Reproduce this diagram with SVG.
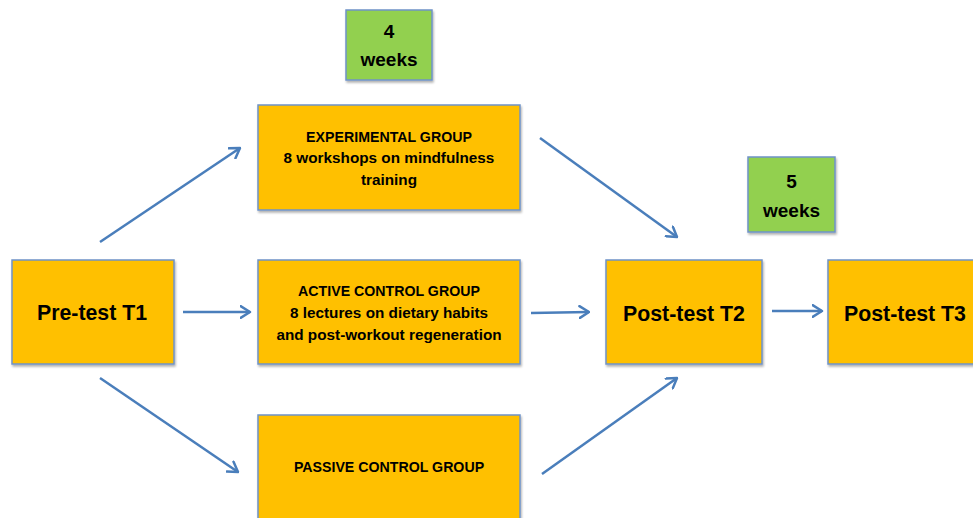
<svg xmlns="http://www.w3.org/2000/svg" width="973" height="518" viewBox="0 0 973 518">
<style>
.box{fill:#FFC000;stroke:#6F93C7;stroke-width:1.5;filter:url(#sh)}
.wk{fill:#92D050;stroke:#6F93C7;stroke-width:1.5;filter:url(#sh)}
text{font-family:"Liberation Sans",Arial,sans-serif;font-weight:bold;fill:#000;text-anchor:middle}
.big{font-size:21.3px}
.sm{font-size:14.2px}
.lc{font-size:15.3px}
.w{font-size:19px}
.conn{stroke:#4A7EBB;stroke-width:2.5;fill:none;marker-end:url(#ah)}
</style>
<defs>
<filter id="sh" x="-10%" y="-10%" width="120%" height="130%">
<feDropShadow dx="1" dy="2" stdDeviation="1.2" flood-color="#000" flood-opacity="0.3"/>
</filter>
<marker id="ah" viewBox="0 0 12 14" refX="10.5" refY="7" markerWidth="12" markerHeight="14" markerUnits="userSpaceOnUse" orient="auto">
<path d="M1,1 L10.5,7 L1,13" fill="none" stroke="#4A7EBB" stroke-width="2.5" stroke-linecap="round" stroke-linejoin="round"/>
</marker>
</defs>
<rect width="973" height="518" fill="#fff"/>

<g id="connectors">
<line class="conn" x1="100" y1="242" x2="240" y2="148"/>
<line class="conn" x1="183" y1="312" x2="250" y2="312"/>
<line class="conn" x1="100" y1="378" x2="238" y2="472"/>
<line class="conn" x1="540" y1="138" x2="677" y2="237"/>
<line class="conn" x1="531" y1="313" x2="589" y2="312"/>
<line class="conn" x1="542" y1="474" x2="677" y2="378"/>
<line class="conn" x1="772" y1="311" x2="822" y2="311"/>
</g>

<g id="weeks4">
<rect class="wk" x="346" y="10" width="86" height="70"/>
<text class="w" x="389" y="38">4</text>
<text class="w" x="389" y="66">weeks</text>
</g>

<g id="weeks5">
<rect class="wk" x="748" y="157" width="87" height="75"/>
<text class="w" x="791.5" y="188">5</text>
<text class="w" x="791.5" y="217">weeks</text>
</g>

<g id="experimental">
<rect class="box" x="258" y="105" width="262" height="105"/>
<text class="sm" x="389" y="142">EXPERIMENTAL GROUP</text>
<text class="lc" x="389" y="163">8 workshops on mindfulness</text>
<text class="lc" x="389" y="185">training</text>
</g>

<g id="pretest">
<rect class="box" x="12" y="260" width="162" height="104"/>
<text class="big" x="92" y="320">Pre-test T1</text>
</g>

<g id="active">
<rect class="box" x="258" y="260" width="262" height="104"/>
<text class="sm" x="389" y="296">ACTIVE CONTROL GROUP</text>
<text class="lc" x="389" y="318">8 lectures on dietary habits</text>
<text class="lc" x="389" y="340">and post-workout regeneration</text>
</g>

<g id="passive">
<rect class="box" x="258" y="415" width="262" height="115"/>
<text class="sm" x="389" y="472">PASSIVE CONTROL GROUP</text>
</g>

<g id="posttest2">
<rect class="box" x="606" y="260" width="156" height="104"/>
<text class="big" x="684" y="321">Post-test T2</text>
</g>

<g id="posttest3">
<rect class="box" x="828" y="260" width="160" height="104"/>
<text class="big" x="905" y="321">Post-test T3</text>
</g>
</svg>
